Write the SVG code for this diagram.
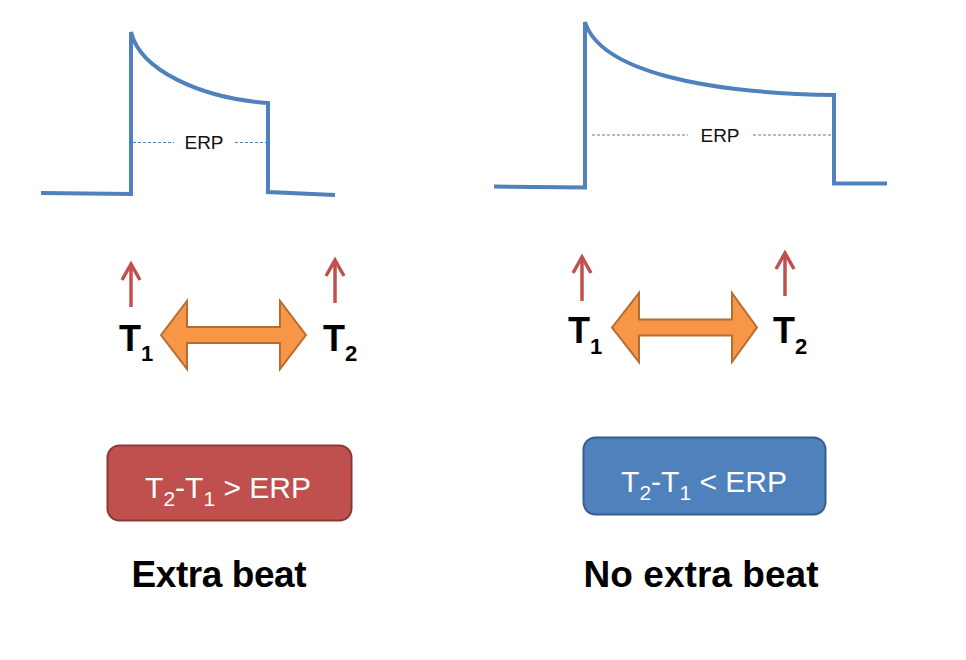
<svg xmlns="http://www.w3.org/2000/svg" width="966" height="660" viewBox="0 0 966 660">
<style>
.wave{fill:none;stroke:#4F81BD;stroke-width:4;stroke-linejoin:miter}
.dash{fill:none;stroke:#4F81BD;stroke-width:1;stroke-dasharray:3 2}
.erp{font-family:"Liberation Sans",Arial,sans-serif;font-size:19px;fill:#111;text-anchor:middle}
.red{fill:none;stroke:#C0504D;stroke-width:3.5;stroke-linecap:butt}
.dbl{fill:#F79646;stroke:#B66D31;stroke-width:2;stroke-linejoin:miter}
.tl{font-family:"Liberation Sans",Arial,sans-serif;font-weight:bold;font-size:36px;fill:#000}
.box-text{font-family:"Liberation Sans",Arial,sans-serif;font-size:30px;fill:#fff;text-anchor:middle}
.cap{font-family:"Liberation Sans",Arial,sans-serif;font-weight:bold;font-size:37px;fill:#000;text-anchor:middle}
</style>
<rect width="966" height="660" fill="#fff"/>

<g id="wave-left">
  <path class="wave" d="M41,193 L131,194 L131,32 C140,70 200,98 268,103 L268,192 L335,195"/>
  <line class="dash" x1="133" y1="142.5" x2="174" y2="142.5"/>
  <line class="dash" x1="235" y1="142.5" x2="266" y2="142.5"/>
  <text class="erp" x="204" y="148.5">ERP</text>
</g>

<g id="wave-right">
  <path class="wave" d="M494,186.5 L585,187.5 L585,22 C600,70 700,93 834,95 L834,183.5 L887,183.5"/>
  <line class="dash" x1="592" y1="135" x2="688" y2="135"/>
  <line class="dash" x1="753" y1="135" x2="832" y2="135"/>
  <text class="erp" x="720" y="142">ERP</text>
</g>

<g id="left-pair">
  <g id="t1-left">
    <line class="red" x1="131" y1="307" x2="131" y2="264"/>
    <polyline class="red" points="122,280 131,264 140,280"/>
    <text class="tl" x="119" y="351">T<tspan font-size="22" dy="10">1</tspan></text>
  </g>
  <g id="t2-left">
    <line class="red" x1="335" y1="303" x2="335" y2="260"/>
    <polyline class="red" points="326,276 335,260 344,276"/>
    <text class="tl" x="323" y="351">T<tspan font-size="22" dy="10">2</tspan></text>
  </g>
  <polygon id="interval-left" class="dbl" points="161,335 187,301 187,327 280,327 280,301 306,335 280,369 280,343 187,343 187,369"/>
</g>

<g id="right-pair">
  <g id="t1-right">
    <line class="red" x1="582" y1="301" x2="582" y2="257"/>
    <polyline class="red" points="573,273 582,257 591,273"/>
    <text class="tl" x="568" y="343">T<tspan font-size="22" dy="11">1</tspan></text>
  </g>
  <g id="t2-right">
    <line class="red" x1="785" y1="296" x2="785" y2="253"/>
    <polyline class="red" points="776,269 785,253 794,269"/>
    <text class="tl" x="773" y="343">T<tspan font-size="22" dy="11">2</tspan></text>
  </g>
  <polygon id="interval-right" class="dbl" points="612,327.5 639,293 639,319.5 732,319.5 732,293 757,327.5 732,362 732,335.5 639,335.5 639,362"/>
</g>

<g id="box-left">
  <rect x="107.5" y="445.5" width="244" height="75" rx="12" fill="#C0504D" stroke="#8C3836" stroke-width="2"/>
  <text class="box-text" x="228" y="498">T<tspan font-size="21" dy="8">2</tspan><tspan dy="-8">-T</tspan><tspan font-size="21" dy="8">1</tspan><tspan dy="-8"> &gt; ERP</tspan></text>
</g>

<g id="box-right">
  <rect x="583.5" y="437.5" width="242" height="77" rx="12" fill="#4F81BD" stroke="#385D8A" stroke-width="2"/>
  <text class="box-text" x="704" y="491.5">T<tspan font-size="21" dy="8">2</tspan><tspan dy="-8">-T</tspan><tspan font-size="21" dy="8">1</tspan><tspan dy="-8"> &lt; ERP</tspan></text>
</g>

<g id="label-left">
  <text class="cap" x="219" y="586.5" textLength="175" lengthAdjust="spacing">Extra beat</text>
</g>
<g id="label-right">
  <text class="cap" x="701" y="586.5" textLength="235" lengthAdjust="spacing">No extra beat</text>
</g>
</svg>
